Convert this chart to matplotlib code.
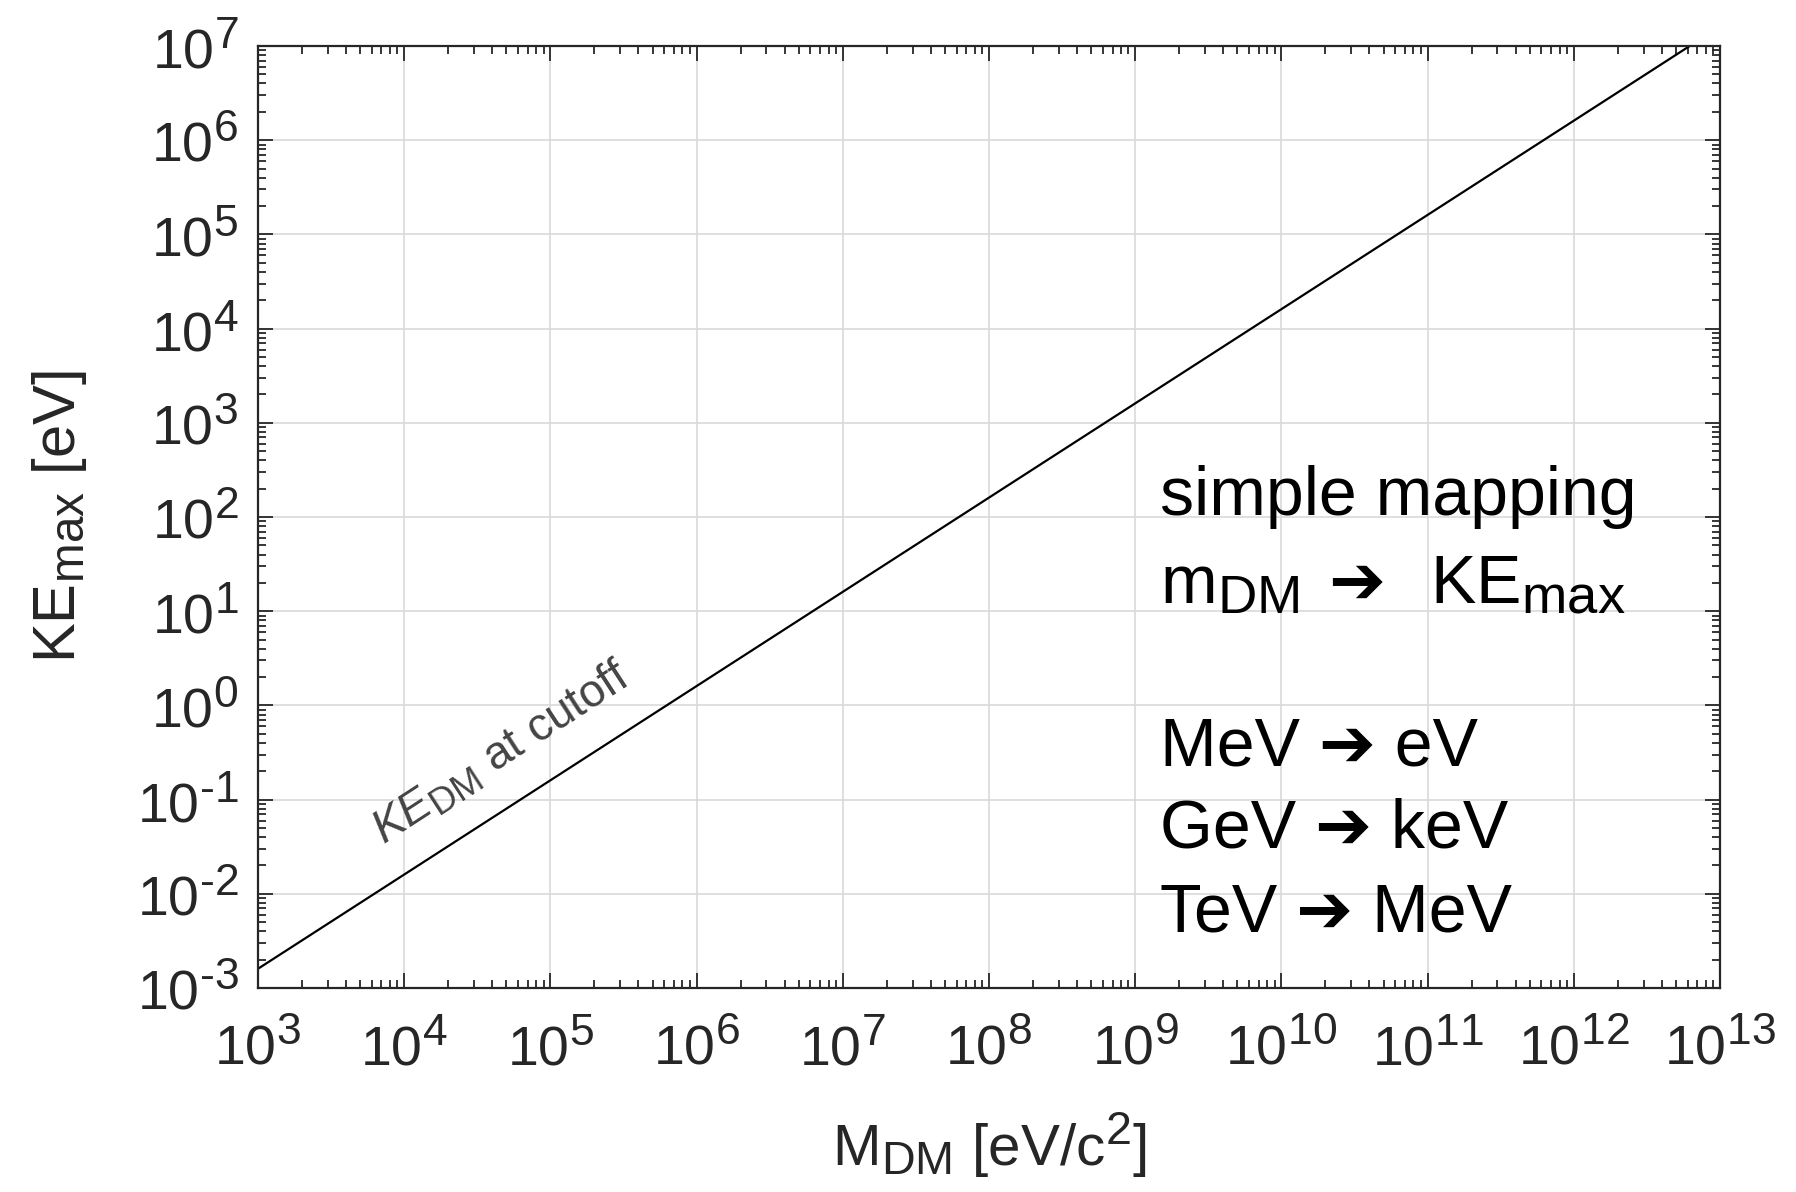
import numpy as np
import matplotlib
matplotlib.use("Agg")
import matplotlib.pyplot as plt
from matplotlib import ticker
import matplotlib._mathtext as mt

# values
mass = [1e3, 6.2e12]          # M_DM [eV/c^2]
ke_max = [1.6e-3, 1.0e7]      # KE_max [eV]
mapping_lines = ["MeV \u2794 eV", "GeV \u2794 keV", "TeV \u2794 MeV"]

# bigger super/subscripts, closer to the MATLAB look
mt.SHRINK_FACTOR = 0.8

plt.rcParams['font.family'] = ['Liberation Sans', 'DejaVu Sans']
plt.rcParams['mathtext.fontset'] = 'custom'
plt.rcParams['mathtext.rm'] = 'Liberation Sans'
plt.rcParams['mathtext.it'] = 'Liberation Sans:italic'
plt.rcParams['mathtext.default'] = 'regular'


def pow10(v, pos):
    # short hyphen in the exponent like the original
    return r'$10^{\text{%d}}$' % int(round(np.log10(v)))


axcol = '#262626'
fig = plt.figure(figsize=(17.96, 11.92), dpi=100)
ax = fig.add_subplot(111)
fig.subplots_adjust(left=0.1436, right=0.9577, top=0.9614, bottom=0.1711)

ax.plot(mass, ke_max, color='black', lw=1.6)
ax.set_xscale('log')
ax.set_yscale('log')
ax.set_xlim(1e3, 1e13)
ax.set_ylim(1e-3, 1e7)

ax.xaxis.set_major_locator(ticker.LogLocator(base=10, numticks=30))
ax.yaxis.set_major_locator(ticker.LogLocator(base=10, numticks=30))
ax.xaxis.set_minor_locator(ticker.LogLocator(base=10, subs=np.arange(2, 10), numticks=30))
ax.yaxis.set_minor_locator(ticker.LogLocator(base=10, subs=np.arange(2, 10), numticks=30))
ax.xaxis.set_major_formatter(ticker.FuncFormatter(pow10))
ax.yaxis.set_major_formatter(ticker.FuncFormatter(pow10))
ax.xaxis.set_minor_formatter(ticker.NullFormatter())
ax.yaxis.set_minor_formatter(ticker.NullFormatter())

ax.grid(True, which='major', color='#d9d9d9', lw=1.2)
ax.set_axisbelow(True)
ax.tick_params(which='both', direction='in', top=True, right=True,
               colors=axcol, labelsize=40, width=1.3)
ax.tick_params(which='major', length=11)
ax.tick_params(which='minor', length=5.5)
ax.tick_params(axis='x', which='major', pad=24)
ax.tick_params(axis='y', which='major', pad=14)
for s in ax.spines.values():
    s.set_color(axcol)
    s.set_linewidth(1.6)

ax.set_xlabel(r'M$_{\rm DM}$ [eV/c$^2$]', fontsize=42, color=axcol, labelpad=24)
ax.set_ylabel(r'KE$_{\rm max}$ [eV]', fontsize=43, color=axcol, labelpad=34)

# line label
ax.text(7.3e3, 0.033, r'$\mathit{KE}_{\rm DM}$ at cutoff', fontsize=33, color='#444444',
        rotation=33, rotation_mode='anchor', ha='left', va='baseline')

# mapping annotation
tx = 0.617
fs = 49
ax.text(tx, 0.502, 'simple mapping', transform=ax.transAxes, fontsize=fs,
        va='baseline', ha='left')
ax.text(tx, 0.409, r'm$_{\rm DM}$', transform=ax.transAxes, fontsize=fs,
        va='baseline', ha='left')
ax.text(0.732, 0.409, '\u2794', transform=ax.transAxes, fontsize=fs,
        va='baseline', ha='left', family=['DejaVu Sans'])
ax.text(0.8016, 0.409, r'KE$_{\rm max}$', transform=ax.transAxes, fontsize=fs,
        va='baseline', ha='left')
for yy, s in zip([0.236, 0.149, 0.060], mapping_lines):
    ax.text(tx, yy, s, transform=ax.transAxes, fontsize=fs, va='baseline', ha='left')

fig.savefig('out.png', dpi=100)
